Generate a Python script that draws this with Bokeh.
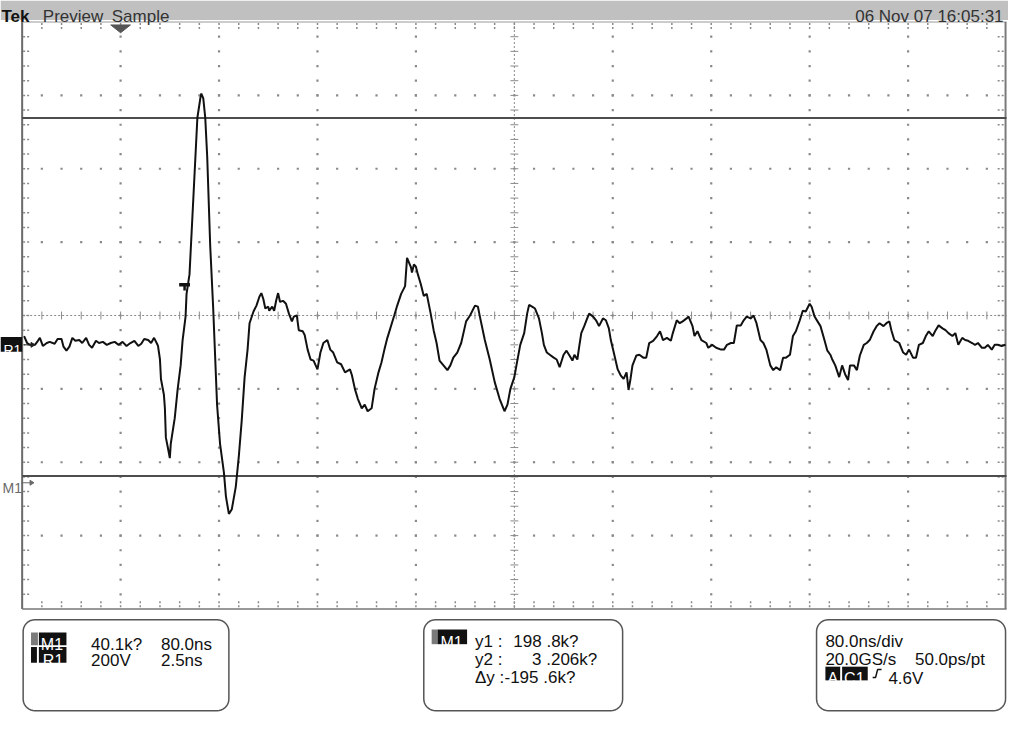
import numpy as np
from bokeh.plotting import figure
from bokeh.models import Range1d, Label
from bokeh.embed import file_html
from bokeh.resources import INLINE

# ---------------- data ----------------
time_ns = [1.6, 4.0, 6.4, 10.4, 12.8, 14.4, 16.8, 20.0, 22.4, 26.4, 28.8, 32.0, 33.6, 36.0, 38.4,
           40.8, 43.2, 46.4, 48.8, 52.0, 54.4, 56.8, 60.0, 62.4, 65.6, 68.8, 72.0, 75.2, 78.4, 81.6,
           84.8, 88.0, 91.2, 94.4, 96.8, 99.2, 102.4, 104.8, 107.2, 109.6,
           110.4, 112.0, 112.8, 115.2, 116.0, 116.8, 118.4, 120.0, 120.8, 124.0, 126.4, 128.8, 130.4,
           132.8, 133.6, 136.0, 139.2, 142.4, 144.8, 145.6, 147.2, 148.8, 150.4, 152.8, 155.2, 156.8,
           158.4, 160.8, 164.0, 165.6, 168.0, 170.4, 173.6, 176.0, 178.4, 180.8, 183.2, 184.8, 188.0,
           190.4, 192.8, 194.4, 196.0, 197.6, 200.0, 200.8, 203.2, 204.8, 206.4, 208.0, 209.6, 212.0,
           214.4, 216.8, 219.2, 220.8, 223.2, 224.8, 228.0, 229.6, 232.0, 234.4, 236.8, 240.0, 242.4,
           244.8, 248.0, 250.4, 252.8, 256.0, 259.2, 262.4, 266.4, 268.0, 270.4, 272.8, 276.0, 278.4,
           280.8, 284.0, 286.4, 289.6, 292.0, 294.4, 296.8, 299.2, 302.4, 304.8, 308.0, 311.2, 312.8,
           314.4, 316.0, 316.8, 318.4, 320.0, 321.6, 324.0, 326.4, 328.8, 332.0, 334.4, 336.8, 339.2,
           342.4, 345.6, 348.0, 350.4, 353.6, 356.8, 360.8, 364.0, 368.0, 370.4, 372.0, 376.0, 380.0,
           384.0, 388.0, 392.0, 394.4, 396.8, 400.0, 402.4, 404.8, 408.0, 410.4, 412.0, 414.4, 416.8,
           420.0, 422.4, 424.0, 426.4, 428.8, 432.0, 434.4, 436.8, 440.0, 442.4, 444.8, 447.2, 448.8,
           451.2, 452.8, 454.4, 456.8, 459.2, 460.8, 464.0, 466.4, 468.8, 472.0, 474.4, 476.8, 478.4,
           480.8, 484.0, 486.4, 488.8, 491.2, 492.8, 494.4, 496.0, 499.2, 501.6, 504.8, 507.2, 509.6,
           512.8, 516.0, 518.4, 520.8, 524.0, 527.2, 528.8, 532.0, 534.4, 536.8, 540.0, 541.6, 544.8,
           546.4, 548.8, 552.0, 556.0, 557.6, 560.8, 564.0, 568.0, 570.4, 572.8, 576.0, 578.4, 580.8,
           584.0, 586.4, 588.8, 592.0, 594.4, 596.8, 600.0, 602.4, 604.8, 608.0, 610.4, 612.8, 616.0,
           618.4, 620.8, 624.0, 626.4, 628.8, 632.0, 634.4, 636.8, 640.0, 641.6, 644.0, 646.4, 648.8,
           652.0, 654.4, 656.8, 658.4, 660.8, 664.0, 666.4, 668.8, 671.2, 672.8, 676.0, 678.4, 680.8,
           684.0, 686.4, 688.8, 692.0, 694.4, 696.8, 700.0, 702.4, 704.8, 706.4, 708.8, 712.8, 716.0,
           718.4, 720.8, 724.0, 726.4, 728.8, 732.0, 734.4, 736.8, 740.0, 742.4, 744.8, 748.0, 750.4,
           752.8, 756.0, 758.4, 760.8, 764.0, 766.4, 768.8, 772.0, 774.4, 776.8, 780.0, 782.4, 784.8,
           788.0, 790.4, 792.8, 796.0, 799.2]
volts = [-56, -75, -80, -80, -69, -61, -83, -75, -72, -77, -64, -64, -85, -96, -85,
         -61, -69, -67, -75, -61, -80, -88, -69, -75, -72, -80, -75, -72, -80, -72,
         -83, -75, -69, -83, -77, -64, -67, -75, -61, -77,
         -83, -120, -173, -216, -253, -333, -360, -389, -349, -280, -200, -136, -67,
         -3, 59, 112, 325, 539, 592, 605, 592, 539, 432, 192, 24, -109,
         -243, -349, -429, -493, -541, -528, -467, -387, -288, -168, -93, -21, 11,
         27, 51, 61, 45, 19, 24, 13, 24, 13, 40, 61, 37, 40,
         32, 5, -16, -3, 0, -40, -43, -53, -93, -120, -123, -147, -101,
         -75, -67, -93, -101, -128, -133, -155, -147, -163, -200, -227, -253, -243,
         -261, -253, -200, -155, -128, -93, -61, -35, 0, 27, 59, 80, 157,
         144, 131, 117, 139, 133, 112, 85, 53, 59, 5, -40, -75, -123,
         -136, -149, -136, -115, -101, -75, -16, 0, 27, 24, -3, -67, -120,
         -181, -227, -261, -243, -200, -168, -123, -80, -48, 5, 29, 24, 19,
         -8, -48, -80, -101, -107, -115, -120, -141, -107, -96, -109, -123, -107,
         -120, -83, -48, -29, -8, 5, -3, -13, -29, -8, -13, -35, -67,
         -101, -147, -163, -173, -155, -203, -173, -136, -109, -107, -115, -115, -75,
         -69, -56, -43, -67, -61, -69, -48, -13, -21, -16, -8, -3, -29,
         -56, -43, -67, -75, -88, -80, -88, -93, -93, -80, -75, -75, -27,
         -27, -13, -3, -8, 0, -21, -67, -75, -93, -136, -149, -141, -149,
         -115, -115, -107, -56, -43, -13, 13, 11, 32, 24, -3, -16, -29,
         -67, -96, -107, -120, -136, -168, -136, -160, -176, -136, -136, -149, -109,
         -80, -75, -67, -43, -29, -21, -29, -21, -16, -40, -67, -75, -101,
         -107, -93, -115, -115, -80, -75, -56, -43, -56, -40, -27, -35, -40,
         -48, -56, -48, -80, -61, -67, -69, -75, -80, -75, -88, -88, -80,
         -93, -80, -80, -83, -80]

NS_PER_DIV = 80          # 80.0ns/div
V_PER_DIV = 200          # R1 200V/div
cursor_levels_v = [538.7, -437.3]
trigger_time_ns = 132.0
trigger_level_v = 80.0

header_left = ["Tek", "Preview", "Sample"]
header_date = "06 Nov 07 16:05:31"
box1_rows = [("40.1k?", "80.0ns"), ("200V", "2.5ns")]
box2_rows = [("y1 :", "198 .8k?"), ("y2 :", "3 .206k?"), ("\u0394y :", "-195 .6k?")]
box3_rows = [("80.0ns/div", ""), ("20.0GS/s", "50.0ps/pt")]
trig_text = "4.6V"

# ---------------- layout (reference screen pixels) ----------------
W, H = 1008, 719
SW, SH = 1024, 735
GL, GR, GT, GB = 22, 1022, 22, 622
YC = (GT + GB) / 2
px_ns = (GR - GL) / (10 * NS_PER_DIV)
px_v = (GB - GT) / (8 * V_PER_DIV)

p = figure(width=W, height=H,
           x_range=Range1d(-GL / px_ns, (SW - GL) / px_ns),
           y_range=Range1d(-(SH - YC) / px_v, YC / px_v),
           output_backend="svg", toolbar_location=None,
           x_axis_location=None, y_axis_location=None, min_border=0)
p.grid.visible = False
p.outline_line_color = None
p.background_fill_color = "white"
p.border_fill_color = "white"
p.extra_x_ranges = {"sx": Range1d(0, SW)}
p.extra_y_ranges = {"sy": Range1d(SH, 0)}
S = dict(x_range_name="sx", y_range_name="sy")

FONT = "Liberation Sans"


def txt(x, y, s, size=17, color="#111111", bold=False, align="left"):
    p.add_layout(Label(x=x, y=y, text=s, text_font=FONT, text_font_size=f"{size}px",
                       text_color=color, text_baseline="alphabetic", text_align=align,
                       text_font_style="bold" if bold else "normal", **S))


def rrect(x0, y0, x1, y1, r, n=10):
    xs, ys = [], []
    for cx, cy, a0 in [(x1 - r, y0 + r, -90), (x1 - r, y1 - r, 0),
                       (x0 + r, y1 - r, 90), (x0 + r, y0 + r, 180)]:
        a = np.radians(np.linspace(a0, a0 + 90, n))
        xs.extend(cx + r * np.cos(a))
        ys.extend(cy + r * np.sin(a))
    return xs, ys


# header bar
p.quad(left=0, right=SW, top=0, bottom=20, fill_color="#c0c0c0", line_color=None, **S)
txt(1, 16, header_left[0], bold=True, color="#111111")
txt(43, 16, header_left[1], color="#333333")
txt(113, 16, header_left[2], color="#333333")
txt(1019, 16, header_date, size=17, color="#333333", align="right")

# graticule dots
dx, dy = [], []
for gx in range(GL + 100, GR, 100):
    if gx == 522:
        continue
    for yy in range(GT + 15, GB, 15):
        dx.append(gx); dy.append(yy)
for gy in range(GT + 75, GB, 75):
    if gy == 322:
        continue
    for xx in range(GL + 20, GR, 20):
        dx.append(xx); dy.append(gy)
p.scatter(dx, dy, marker="square", size=2.2, fill_color="#8a8a8a", line_color=None, **S)

# center cross
p.segment(x0=[GL], y0=[YC], x1=[GR], y1=[YC], line_color="#8a8a8a", line_width=1, line_dash="2 2", **S)
p.segment(x0=[522], y0=[GT], x1=[522], y1=[GB], line_color="#8a8a8a", line_width=1, line_dash="2 2", **S)
tx = list(range(GL + 20, GR, 20))
p.segment(x0=tx, y0=[YC - 4] * len(tx), x1=tx, y1=[YC + 4] * len(tx), line_color="#8a8a8a", line_width=1, **S)
ty = list(range(GT + 15, GB, 15))
p.segment(x0=[518] * len(ty), y0=ty, x1=[526] * len(ty), y1=ty, line_color="#8a8a8a", line_width=1, **S)

# edge ticks
p.segment(x0=tx, y0=[GT + 1] * len(tx), x1=tx, y1=[GT + 8] * len(tx), line_color="#8a8a8a", line_width=1.5, line_dash="2 2", **S)
p.segment(x0=tx, y0=[GB - 8] * len(tx), x1=tx, y1=[GB] * len(tx), line_color="#8a8a8a", line_width=1.5, line_dash="2 2", **S)
p.segment(x0=[GL + 1] * len(ty), y0=ty, x1=[GL + 9] * len(ty), y1=ty, line_color="#8a8a8a", line_width=1.5, line_dash="2 2", **S)
p.segment(x0=[GR - 9] * len(ty), y0=ty, x1=[GR - 1] * len(ty), y1=ty, line_color="#8a8a8a", line_width=1.5, line_dash="2 2", **S)

# border
p.segment(x0=[GL, GL, GR - 1, GL], y0=[GT, GT, GT, GB], x1=[GL, GR, GR - 1, GR], y1=[GB, GT, GB, GB],
          line_color=["#6a6a6a", "#999999", "#7a7a7a", "#777777"], line_width=[2, 1, 2, 1.5], **S)

# trigger position marker
p.patch([112, 132, 122], [25, 25, 33], fill_color="#555555", line_color="#555555", **S)

# cursors
p.segment(x0=[GL] * 2, x1=[GR] * 2, y0=cursor_levels_v, y1=cursor_levels_v,
          line_color="#4d4d4d", line_width=2, x_range_name="sx")

# waveform
p.line(time_ns, volts, line_color="#111111", line_width=2)

# trigger level marker
p.segment(x0=[trigger_time_ns - 4.4], x1=[trigger_time_ns + 4.4], y0=[trigger_level_v + 4], y1=[trigger_level_v + 4],
          line_color="#111111", line_width=3.5)
p.segment(x0=[trigger_time_ns], x1=[trigger_time_ns], y0=[trigger_level_v + 4], y1=[trigger_level_v - 12],
          line_color="#111111", line_width=2.5)

# left labels
p.quad(left=0, right=22, top=344, bottom=359, fill_color="#111111", line_color=None, **S)
txt(3, 357, "R1", size=14, color="white")
p.segment(x0=[24], y0=[352], x1=[33], y1=[352], line_color="#222222", line_width=1, **S)
p.patch([31, 35, 31], [349.5, 352, 354.5], fill_color="#222222", line_color="#222222", **S)
txt(2, 498, "M1", size=14, color="#6a6a6a")
p.segment(x0=[21], y0=[493], x1=[32], y1=[493], line_color="#6a6a6a", line_width=1, **S)
p.patch([30, 34, 30], [490.5, 493, 495.5], fill_color="#6a6a6a", line_color="#6a6a6a", **S)

# readout boxes
for (bx0, bx1) in [(23, 232), (430, 632), (829, 1021)]:
    xs, ys = rrect(bx0, 633, bx1, 726, 12)
    p.patch(xs, ys, fill_color="white", line_color="#555555", line_width=1.5, **S)

# box 1
p.quad(left=31, right=38, top=646, bottom=659, fill_color="#7a7a7a", line_color=None, **S)
p.quad(left=39, right=67, top=646, bottom=659, fill_color="#111111", line_color=None, **S)
txt(41, 658, "M1", size=16, color="white")
p.quad(left=31, right=37, top=661, bottom=677, fill_color="#111111", line_color=None, **S)
p.quad(left=39, right=67, top=661, bottom=677, fill_color="#111111", line_color=None, **S)
txt(43, 675, "R1", size=16, color="white")
for (a, b), yb in zip(box1_rows, [658, 675]):
    txt(92, yb, a)
    txt(163, yb, b)

# box 2
p.quad(left=438, right=444, top=643, bottom=658, fill_color="#7a7a7a", line_color=None, **S)
p.quad(left=444, right=474, top=643, bottom=658, fill_color="#111111", line_color=None, **S)
txt(447, 656, "M1", size=16, color="white")
for (a, b), yb, xb in zip(box2_rows, [655, 674, 692], [521, 540, 512]):
    txt(482, yb, a)
    txt(xb, yb, b)

# box 3
txt(838, 655, box3_rows[0][0])
txt(838, 674, box3_rows[1][0])
txt(929, 674, box3_rows[1][1])
p.quad(left=838, right=853, top=681, bottom=695, fill_color="#111111", line_color=None, **S)
p.quad(left=855, right=881, top=681, bottom=695, fill_color="#111111", line_color=None, **S)
txt(840, 693, "A", size=16, color="white")
txt(857, 693, "C1", size=16, color="white")
p.line([886, 889, 891, 895], [692, 692, 684, 684], line_color="#111111", line_width=1.5, **S)
txt(902, 693, trig_text)

open("out.html", "w").write(file_html(p, INLINE))
